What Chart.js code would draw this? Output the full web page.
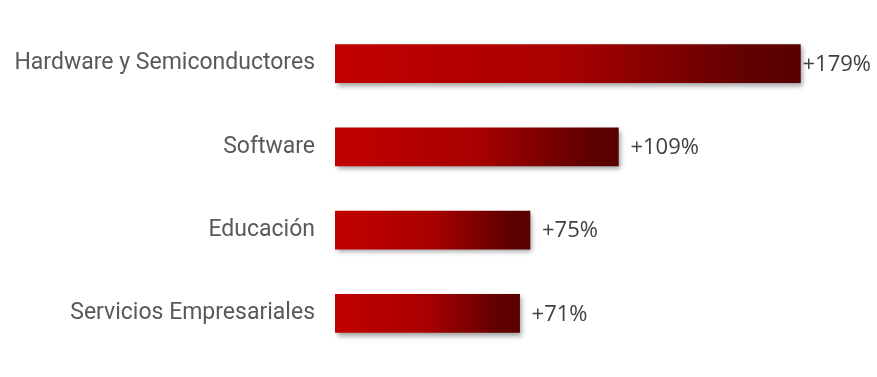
<!DOCTYPE html>
<html>
<head>
<meta charset="utf-8">
<script src="https://cdn.jsdelivr.net/npm/chart.js@4"></script>
<style>
  html, body { margin: 0; padding: 0; background: #fff; }
  #wrap { width: 877px; height: 377px; }
</style>
</head>
<body>
<div id="wrap"><canvas id="myChart"></canvas></div>
<script>
const categories = ['Hardware y Semiconductores', 'Software', 'Educación', 'Servicios Empresariales'];
const growth = [179, 109, 75, 71];
const valueLabels = ['+179%', '+109%', '+75%', '+71%'];

const ctx = document.getElementById('myChart');

// sombra debajo de las barras
const shadowPlugin = {
  id: 'barShadow',
  beforeDatasetsDraw(chart) {
    const c = chart.ctx;
    c.save();
    c.shadowColor = 'rgba(0,0,0,0.38)';
    c.shadowBlur = 5;
    c.shadowOffsetX = 2;
    c.shadowOffsetY = 3;
  },
  afterDatasetsDraw(chart) {
    chart.ctx.restore();
  }
};

// etiquetas de valor al final de cada barra
const valuePlugin = {
  id: 'valueLabels',
  afterDatasetsDraw(chart) {
    const c = chart.ctx;
    const meta = chart.getDatasetMeta(0);
    c.save();
    c.font = '22px "Open Sans", sans-serif';
    c.fillStyle = '#404040';
    c.textBaseline = 'middle';
    meta.data.forEach((bar, i) => {
      const txt = valueLabels[i];
      const w = c.measureText(txt).width;
      let x = bar.x + 12;
      if (x + w > chart.width - 6) x = chart.width - 6 - w;
      c.fillText(txt, x, bar.y + 1);
    });
    c.restore();
  }
};

new Chart(ctx, {
  type: 'bar',
  data: {
    labels: categories,
    datasets: [{
      data: growth,
      barThickness: 38,
      borderWidth: 0,
      backgroundColor: function (context) {
        const chart = context.chart;
        const area = chart.chartArea;
        if (!area) return '#a80000';
        const x0 = chart.scales.x.getPixelForValue(0);
        const x1 = chart.scales.x.getPixelForValue(context.raw);
        const g = chart.ctx.createLinearGradient(x0, 0, x1, 0);
        g.addColorStop(0, '#c20000');
        g.addColorStop(0.5, '#a80000');
        g.addColorStop(0.9, '#5e0000');
        g.addColorStop(1, '#5a0000');
        return g;
      }
    }]
  },
  options: {
    indexAxis: 'y',
    responsive: true,
    maintainAspectRatio: false,
    animation: false,
    layout: { padding: { top: 22, bottom: 22, left: 0, right: 22 } },
    plugins: {
      legend: { display: false },
      tooltip: { enabled: false }
    },
    scales: {
      x: {
        display: false,
        min: 0,
        max: 200
      },
      y: {
        afterFit(scale) {
          scale.width = 335;
          scale.paddingTop = 0;
          scale.paddingBottom = 0;
        },
        grid: { display: false, drawTicks: false },
        border: { display: false },
        ticks: {
          padding: 20,
          color: '#595959',
          font: { family: 'Roboto', size: 23 }
        }
      }
    }
  },
  plugins: [shadowPlugin, valuePlugin]
});
</script>
</body>
</html>
